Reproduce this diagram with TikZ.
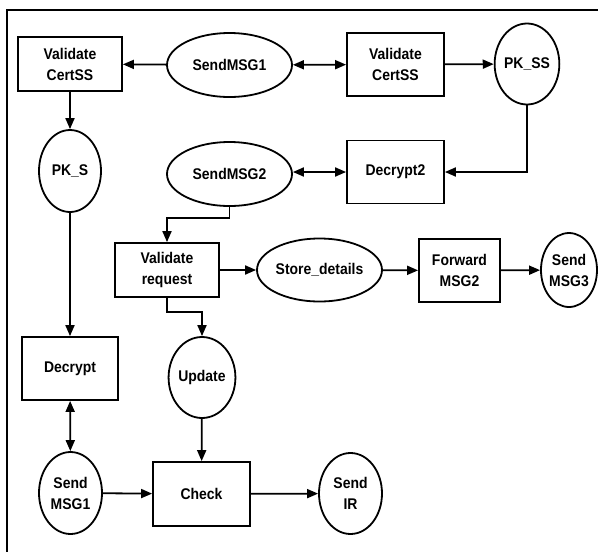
\documentclass[tikz,border=0pt]{standalone}
\usepackage{fontspec}
\setmainfont{Liberation Sans}[FakeStretch=0.9]
\usetikzlibrary{shapes.geometric,arrows.meta}
\tikzset{
  procbox/.style={draw, line width=1.8pt, rectangle, inner sep=0pt, align=center,
    font=\fontsize{15.5}{21}\selectfont\bfseries},
  oval/.style={draw, line width=1.8pt, ellipse, inner sep=0pt, align=center,
    font=\fontsize{15.5}{21}\selectfont\bfseries},
  flow/.style={line width=1.8pt, -{Triangle[length=11pt,width=9pt]}},
  flow2/.style={line width=1.8pt, {Triangle[length=11pt,width=9pt]}-{Triangle[length=11pt,width=9pt]}}
}
\begin{document}
\begin{tikzpicture}[x=1pt,y=-1pt]
\useasboundingbox (0,0) rectangle (598,552);
% outer frame (left and top edges)
\draw[line width=2.4pt] (7,552) -- (7,10) -- (598,10);

% top row
\node[procbox, minimum width=104pt, minimum height=54pt] (vc1) at (70,64) {Validate\\CertSS};
\node[oval, minimum width=125pt, minimum height=64pt] (s1) at (229.5,65) {SendMSG1};
\node[procbox, minimum width=97pt, minimum height=63pt] (vc2) at (395.5,64.5) {Validate\\CertSS};
\node[oval, minimum width=62pt, minimum height=81pt] (pkss) at (527,64) {PK\_SS};

% second row
\node[oval, minimum width=62pt, minimum height=82pt] (pks) at (70,171) {PK\_S};
\node[oval, minimum width=125pt, minimum height=64pt] (s2) at (229.5,174) {SendMSG2};
\node[procbox, minimum width=97pt, minimum height=63pt] (dec2) at (395.5,172) {Decrypt2};

% third row
\node[procbox, minimum width=104pt, minimum height=54pt] (vr) at (167,270) {Validate\\request};
\node[oval, minimum width=125pt, minimum height=63pt] (sd) at (319.5,270) {Store\_details};
\node[procbox, minimum width=81pt, minimum height=63pt] (fw) at (459.5,270.5) {Forward\\MSG2};
\node[oval, minimum width=56pt, minimum height=74pt] (s3) at (569,270) {Send\\MSG3};

% lower part
\node[procbox, minimum width=96pt, minimum height=63pt] (dec) at (70,368.5) {Decrypt};
\node[oval, minimum width=63pt, minimum height=81pt] (upd) at (202,377.5) {Update};
\node[oval, minimum width=63pt, minimum height=82pt] (sm1) at (70.5,493) {Send\\MSG1};
\node[procbox, minimum width=97pt, minimum height=64pt] (chk) at (201.5,494) {Check};
\node[oval, minimum width=63pt, minimum height=81pt] (sir) at (350.5,493.5) {Send\\IR};

% connectors
\draw[flow] (s1) -- (vc1);
\draw[flow2] (s1) -- (vc2);
\draw[flow] (vc2) -- (pkss);
\draw[flow] (pkss.south) |- (dec2.east);
\draw[flow2] (s2.east |- dec2) -- (dec2);
\draw[flow] (vc1) -- (pks);
\draw[flow] (s2.south) -- ++(0,11) -| (vr.north);
\draw[flow] (vr) -- (sd);
\draw[flow] (sd) -- (fw);
\draw[flow] (fw) -- (s3);
\draw[flow] (vr.south) -- ++(0,14) -| (upd.north);
\draw[flow] (pks) -- (dec);
\draw[flow2] (dec) -- (sm1);
\draw[flow] (upd) -- (chk);
\draw[flow] (sm1) -- (chk);
\draw[flow] (chk) -- (sir);
\end{tikzpicture}
\end{document}
